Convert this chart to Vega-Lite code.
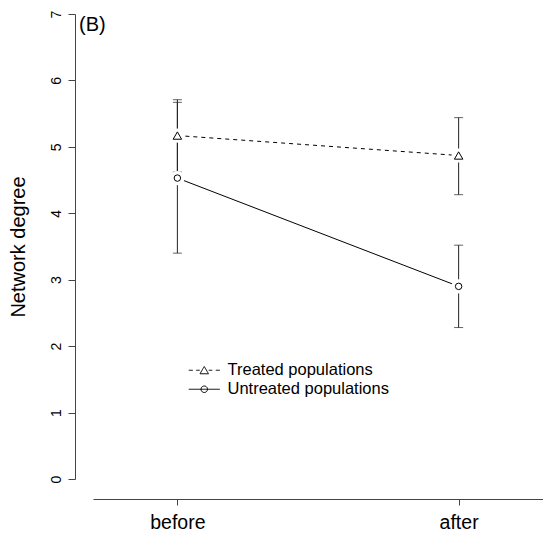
{
  "$schema": "https://vega.github.io/schema/vega-lite/v6.json",
  "autosize": {"type": "none"},
  "padding": {"left": 93, "top": 14, "right": 0, "bottom": 58},
  "width": 450,
  "height": 465,
  "background": "white",
  "config": {
    "font": "Liberation Sans",
    "view": {"stroke": null},
    "axis": {"grid": false, "domainColor": "#444", "tickColor": "#444", "labelColor": "black", "titleColor": "black", "labelFont": "Liberation Sans", "titleFont": "Liberation Sans"}
  },
  "title": {
    "text": "(B)",
    "anchor": "start",
    "frame": "group",
    "fontSize": 20,
    "fontWeight": "normal",
    "font": "Liberation Sans",
    "color": "black",
    "baseline": "alphabetic",
    "offset": -41,
    "dx": -14
  },
  "data": {
    "values": [
      {"period": "before", "group": "Treated populations", "mean": 5.17, "lo": 4.62, "hi": 5.71},
      {"period": "after", "group": "Treated populations", "mean": 4.87, "lo": 4.28, "hi": 5.44},
      {"period": "before", "group": "Untreated populations", "mean": 4.53, "lo": 3.40, "hi": 5.67},
      {"period": "after", "group": "Untreated populations", "mean": 2.90, "lo": 2.28, "hi": 3.52}
    ]
  },
  "encoding": {
    "x": {
      "field": "period",
      "type": "nominal",
      "sort": ["before", "after"],
      "scale": {"type": "point", "domain": ["before", "after"], "padding": 0.3},
      "axis": {"title": null, "offset": 20, "tickSize": 6, "labelFontSize": 19.5, "labelPadding": 8, "labelAngle": 0}
    },
    "y": {
      "field": "mean",
      "type": "quantitative",
      "scale": {"domain": [0, 7], "nice": false, "zero": false},
      "axis": {"title": "Network degree", "values": [0, 1, 2, 3, 4, 5, 6, 7], "format": "d", "offset": 18, "tickSize": 7, "labelAngle": -90, "labelFontSize": 14, "labelPadding": 4.5, "titleFontSize": 20, "titleFontWeight": "normal", "titlePadding": 21}
    }
  },
  "layer": [
    {
      "transform": [{"filter": "datum.group === 'Treated populations'"}],
      "mark": {"type": "line", "strokeWidth": 1, "strokeDash": [4, 4]},
      "encoding": {
        "color": {
          "field": "group",
          "type": "nominal",
          "scale": {"domain": ["Treated populations", "Untreated populations"], "range": ["black", "black"]},
          "legend": {
            "title": null,
            "orient": "none",
            "legendX": 103,
            "legendY": 348,
            "padding": 0,
            "labelFontSize": 16.5,
            "labelFont": "Liberation Sans",
            "labelColor": "black",
            "labelLimit": 400,
            "labelOffset": 15,
            "rowPadding": 2,
            "symbolSize": 100,
            "symbolStrokeWidth": 1,
            "encode": {
              "symbols": {
                "update": {
                  "shape": {"signal": "datum.value === 'Treated populations' ? 'M-3.1,0H-2.3M-1.6,0H-0.9M0.9,0H1.6M2.3,0H3.1M0,-0.75L0.85,0.7L-0.85,0.7Z' : 'M-3.1,0H3.1M0.65,0A0.65,0.65 0 1,1 -0.65,0A0.65,0.65 0 1,1 0.65,0Z'"},
                  "stroke": {"value": "black"},
                  "fill": {"value": "transparent"},
                  "strokeDash": {"value": [1, 0]},
                  "strokeWidth": {"value": 1}
                }
              }
            }
          }
        }
      }
    },
    {
      "transform": [{"filter": "datum.group === 'Untreated populations'"}],
      "mark": {"type": "line", "strokeWidth": 1},
      "encoding": {
        "color": {"field": "group", "type": "nominal"}
      }
    },
    {
      "mark": {"type": "rule", "color": "#222", "strokeWidth": 1},
      "encoding": {
        "y": {"field": "lo", "type": "quantitative"},
        "y2": {"field": "hi"}
      }
    },
    {
      "mark": {"type": "tick", "color": "#222", "thickness": 1, "size": 9, "orient": "horizontal"},
      "encoding": {"y": {"field": "lo", "type": "quantitative"}}
    },
    {
      "mark": {"type": "tick", "color": "#222", "thickness": 1, "size": 9, "orient": "horizontal"},
      "encoding": {"y": {"field": "hi", "type": "quantitative"}}
    },
    {
      "mark": {"type": "point", "shape": "circle", "filled": true, "fill": "white", "stroke": null, "opacity": 1, "size": 200}
    },
    {
      "transform": [{"filter": "datum.group === 'Treated populations'"}],
      "mark": {"type": "point", "shape": "triangle-up", "filled": false, "stroke": "black", "strokeWidth": 1, "opacity": 1, "size": 72}
    },
    {
      "transform": [{"filter": "datum.group === 'Untreated populations'"}],
      "mark": {"type": "point", "shape": "circle", "filled": false, "stroke": "black", "strokeWidth": 1, "opacity": 1, "size": 42}
    }
  ]
}
